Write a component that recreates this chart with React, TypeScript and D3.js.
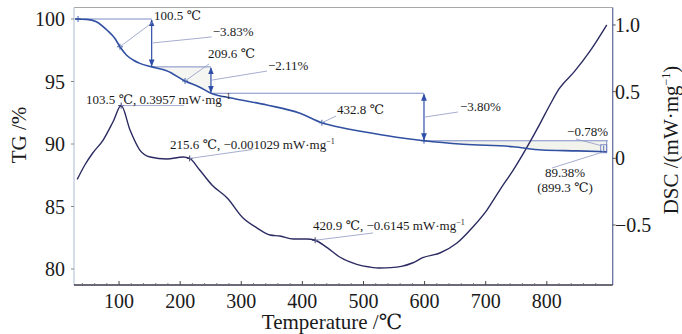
import React from "react";
import * as d3 from "d3";

// TG curve (temperature in C, mass %)
const tgTemp = [28, 47, 63, 80, 93, 101.5, 112, 123, 134, 153.4, 178, 208, 232, 250.4, 286, 342, 396, 432, 445, 500, 554, 599, 663, 745, 792, 850, 898];
const tgVal = [100.0, 99.97, 99.78, 99.12, 98.46, 97.78, 97.12, 96.72, 96.45, 96.17, 95.86, 95.04, 94.54, 94.06, 93.66, 93.12, 92.46, 91.7, 91.52, 90.98, 90.54, 90.26, 89.98, 89.78, 89.52, 89.45, 89.38];

// DSC curve (temperature in C, mW/mg)
const dscTemp = [31.6, 44, 57, 74, 90, 103.5, 118, 134, 151, 178, 205, 215.6, 232, 252, 277, 303, 326, 347, 363, 385, 407, 420.9, 440, 461, 489, 510, 527, 545, 562, 580, 597, 625, 653, 679, 702, 723, 745, 772, 790, 805, 820, 845, 870, 898];
const dscVal = [-0.158, -0.05, 0.04, 0.137, 0.272, 0.3957, 0.212, 0.062, 0.01, -0.005, 0.01, -0.001, -0.088, -0.2, -0.298, -0.448, -0.523, -0.575, -0.583, -0.605, -0.605, -0.6145, -0.668, -0.74, -0.795, -0.815, -0.823, -0.82, -0.81, -0.785, -0.745, -0.71, -0.635, -0.515, -0.388, -0.238, -0.088, 0.12, 0.27, 0.4, 0.52, 0.65, 0.8, 1.0];

const xTicks = [100, 200, 300, 400, 500, 600, 700, 800];
const tgTicks = [80, 85, 90, 95, 100];
const dscTicks = [-0.5, 0, 0.5, 1.0];
const dscTickLabels = ["\u22120.5", "0", "0.5", "1.0"];

// mass-loss steps
const stepTemps = [28, 153.4, 250.4, 599, 898];
const stepLevels = [100, 96.17, 94.06, 90.26, 89.48];
const stepLabels = ["\u22123.83%", "\u22122.11%", "\u22123.80%", "\u22120.78%"];

// marked points on TG
const tgMarkTemps = [101.5, 208, 432];
const tgMarkLabels = ["100.5 \u2103", "209.6 \u2103", "432.8 \u2103"];

// DSC peak labels
const dscPeakTemps = [103.5, 215.6, 420.9];
const dscPeakVals = [0.3957, -0.001029, -0.6145];
const dscPeakLabels = ["103.5 \u2103, 0.3957 mW\u00b7mg", "215.6 \u2103, \u22120.001029 mW\u00b7mg", "420.9 \u2103, \u22120.6145 mW\u00b7mg"];

const serif = "'Liberation Serif', 'Times New Roman', Times, 'DejaVu Serif', serif";

export default function App() {
  const W = 682, H = 334;
  const left = 74, right = 612.7, top = 7.5, bottom = 285;

  const x = d3.scaleLinear().domain([26.3, 907.8]).range([left, right]);
  const yTG = d3.scaleLinear().domain([78.72, 100.92]).range([bottom, top]);
  const yDSC = d3.scaleLinear().domain([-0.95, 1.131]).range([bottom, top]);

  const tgData = tgTemp.map((t, i) => [t, tgVal[i]] as [number, number]);
  const dscData = dscTemp.map((t, i) => [t, dscVal[i]] as [number, number]);

  const tgLine = d3.line<[number, number]>()
    .x(d => x(d[0])).y(d => yTG(d[1]))
    .curve(d3.curveMonotoneX);
  const dscLine = d3.line<[number, number]>()
    .x(d => x(d[0])).y(d => yDSC(d[1]))
    .curve(d3.curveMonotoneX);

  const shade = (i: number) => {
    const t0 = stepTemps[i], t1 = stepTemps[i + 1];
    const pts = tgData.filter(d => d[0] >= t0 && d[0] <= t1);
    return d3.area<[number, number]>()
      .x(d => x(d[0])).y0(yTG(stepLevels[i])).y1(d => yTG(d[1]))
      .curve(d3.curveMonotoneX)(pts) || "";
  };

  const tgAt = (t: number) => tgVal[tgTemp.indexOf(t)];

  const plus = (cx: number, cy: number) => `M${cx - 3},${cy}h6M${cx},${cy - 3}v6`;

  const minor = d3.range(40, 900, 20).filter(t => t % 100 !== 0);

  const refCol = "#7080c0";
  const leadCol = "#8f99c4";
  const arrowCol = "#2f4ea8";
  const txt = "#1a1a1a";
  const tf = { fontFamily: serif };

  const arrowX = stepTemps.slice(1).map(t => x(t));

  return (
    <svg width={W} height={H} style={{ position: "absolute", left: 0, top: 0, background: "#fff", fontFamily: serif }}>
      <defs>
        <marker id="ah" viewBox="0 0 10 10" refX="9" refY="5" markerWidth="6" markerHeight="6"
          orient="auto-start-reverse">
          <path d="M0,1 L10,5 L0,9 z" fill={arrowCol} />
        </marker>
      </defs>

      {/* shaded steps */}
      <path d={shade(1)} fill="#f5f5f1" />
      <path d={shade(3)} fill="#f3f3ee" />

      {/* frame */}
      <line x1={left} x2={right} y1={top} y2={top} stroke="#a8a8a8" strokeWidth={1} />
      <line x1={left} x2={left} y1={top} y2={bottom} stroke="#b9c8d6" strokeWidth={1.2} />
      <line x1={right} x2={right} y1={top} y2={bottom} stroke="#6670a0" strokeWidth={1.3} />
      <line x1={left} x2={right} y1={bottom} y2={bottom} stroke="#3a3a4a" strokeWidth={1.6} />

      {/* x ticks */}
      {xTicks.map(t => (
        <g key={t}>
          <line x1={x(t)} x2={x(t)} y1={bottom} y2={bottom - 4} stroke="#444" />
          <text x={x(t)} y={bottom + 16} dy="0.35em" textAnchor="middle" fontSize={20} fill={txt} style={tf}>{t}</text>
        </g>
      ))}
      {minor.map(t => (
        <line key={t} x1={x(t)} x2={x(t)} y1={bottom} y2={bottom - 2} stroke="#666" strokeWidth={0.8} />
      ))}
      <text x={332} y={322} dy="0.35em" textAnchor="middle" fontSize={21} fill={txt} style={tf}>Temperature /℃</text>

      {/* left TG axis */}
      {tgTicks.map(t => (
        <g key={t}>
          <line x1={left - 3} x2={left} y1={yTG(t)} y2={yTG(t)} stroke="#888" />
          <text x={65} y={yTG(t)} dy="0.35em" textAnchor="end" fontSize={20} fill={txt} style={tf}>{t}</text>
        </g>
      ))}
      <text transform="translate(26,135) rotate(-90)" textAnchor="middle" fontSize={21} fill={txt} style={tf}>TG /%</text>

      {/* right DSC axis */}
      {dscTicks.map((t, i) => (
        <g key={t}>
          <line x1={right} x2={right + 3} y1={yDSC(t)} y2={yDSC(t)} stroke="#555" />
          <text x={615} y={yDSC(t)} dy="0.35em" textAnchor="start" fontSize={20} fill={txt} style={tf}>{dscTickLabels[i]}</text>
        </g>
      ))}
      <text transform="translate(678,140) rotate(-90)" textAnchor="middle" fontSize={21} fill={txt} style={tf}>
        DSC /(mW·mg<tspan fontSize={12} dy={-8}>−1</tspan><tspan dy={8}>)</tspan>
      </text>

      {/* step reference lines */}
      {stepLevels.slice(0, 4).map((lv, i) => (
        <line key={i} x1={x(stepTemps[i])} x2={x(stepTemps[i + 1]) + (i === 3 ? 1 : 0)}
          y1={yTG(lv)} y2={yTG(lv)} stroke={refCol} strokeWidth={0.9} />
      ))}
      {/* small end box */}
      <rect x={x(898) - 6} y={yTG(stepLevels[3]) + 4} width={6} height={yTG(89.38) - yTG(stepLevels[3]) - 3}
        fill="none" stroke={refCol} strokeWidth={0.9} />
      <line x1={x(898)} x2={x(898)} y1={yTG(stepLevels[3])} y2={yTG(89.38)} stroke={refCol} strokeWidth={0.9} />

      {/* step arrows */}
      {[0, 1, 2].map(i => (
        <line key={i} x1={arrowX[i]} x2={arrowX[i]} y1={yTG(stepLevels[i]) + 1} y2={yTG(stepLevels[i + 1]) - 1}
          stroke={arrowCol} strokeWidth={1.2} markerStart="url(#ah)" markerEnd="url(#ah)" />
      ))}
      <line x1={x(898) - 3} x2={x(898) - 3} y1={yTG(stepLevels[3]) + 5} y2={yTG(89.38) - 1}
        stroke={arrowCol} strokeWidth={0.8} />

      {/* step labels */}
      {[0, 1, 2].map(i => {
        const ax = arrowX[i];
        const mid = (yTG(stepLevels[i]) + yTG(stepLevels[i + 1])) / 2;
        const off = [[60, -6, 61, -6.5], [56, -9, 57, -10.5], [34, -5, 36, -6]][i];
        return (
          <g key={i}>
            <line x1={ax + 1} y1={mid} x2={ax + off[0]} y2={mid + off[1]} stroke={leadCol} strokeWidth={0.8} />
            <text x={ax + off[2]} y={mid + off[3]} fontSize={13} fill={txt} style={tf}>{stepLabels[i]}</text>
          </g>
        );
      })}
      <line x1={x(898) - 5} y1={yTG(stepLevels[3]) + 5} x2={576} y2={139} stroke={leadCol} strokeWidth={0.8} />
      <text x={608} y={136} textAnchor="end" fontSize={13} fill={txt} style={tf}>{stepLabels[3]}</text>

      {/* curves */}
      <path d={dscLine(dscData) || ""} fill="none" stroke="#2b2b62" strokeWidth={1.4} />
      <path d={tgLine(tgData) || ""} fill="none" stroke="#3150a2" strokeWidth={1.6} />

      {/* TG markers and labels */}
      <path d={plus(x(tgTemp[0]) + 3, yTG(tgVal[0]))} stroke="#3150a2" strokeWidth={0.9} />
      <path d={plus(x(599), yTG(tgAt(599)))} stroke="#3150a2" strokeWidth={0.9} />
      {tgMarkTemps.map((t, i) => {
        const mx = x(t), my = yTG(tgAt(t));
        const lab = [[153, 22, 154, 19.5], [209, 64, 208, 57.5], [336, 116, 337, 113.5]][i];
        return (
          <g key={t}>
            <path d={plus(mx, my)} stroke="#3150a2" strokeWidth={0.9} />
            <line x1={mx} y1={my} x2={lab[0]} y2={lab[1]} stroke={leadCol} strokeWidth={0.8} />
            <text x={lab[2]} y={lab[3]} fontSize={13} fill={txt} style={tf}>{tgMarkLabels[i]}</text>
          </g>
        );
      })}

      {/* end label */}
      <line x1={x(898) - 3} y1={yTG(89.38)} x2={552} y2={168} stroke={leadCol} strokeWidth={0.8} />
      <text x={565} y={177} textAnchor="middle" fontSize={13} fill={txt} style={tf}>89.38%</text>
      <text x={565} y={192} textAnchor="middle" fontSize={13} fill={txt} style={tf}>(899.3 ℃)</text>

      {/* DSC peak labels */}
      {dscPeakTemps.map((t, i) => {
        const mx = x(t), my = yDSC(dscPeakVals[i]);
        const lab = [[mx + 63, my, 86, my - 1.5], [mx + 63, my - 9, 170, 148.5], [mx + 58, my - 7.3, 313, 229.5]][i];
        return (
          <g key={t}>
            <path d={plus(mx, my)} stroke="#2b2b62" strokeWidth={0.9} />
            <line x1={mx} y1={my} x2={lab[0]} y2={lab[1]} stroke={leadCol} strokeWidth={0.8} />
            <text x={lab[2]} y={lab[3]} fontSize={13} fill={txt} style={tf}>
              {dscPeakLabels[i]}<tspan fontSize={8} dy={-5}>−1</tspan>
            </text>
          </g>
        );
      })}
    </svg>
  );
}
